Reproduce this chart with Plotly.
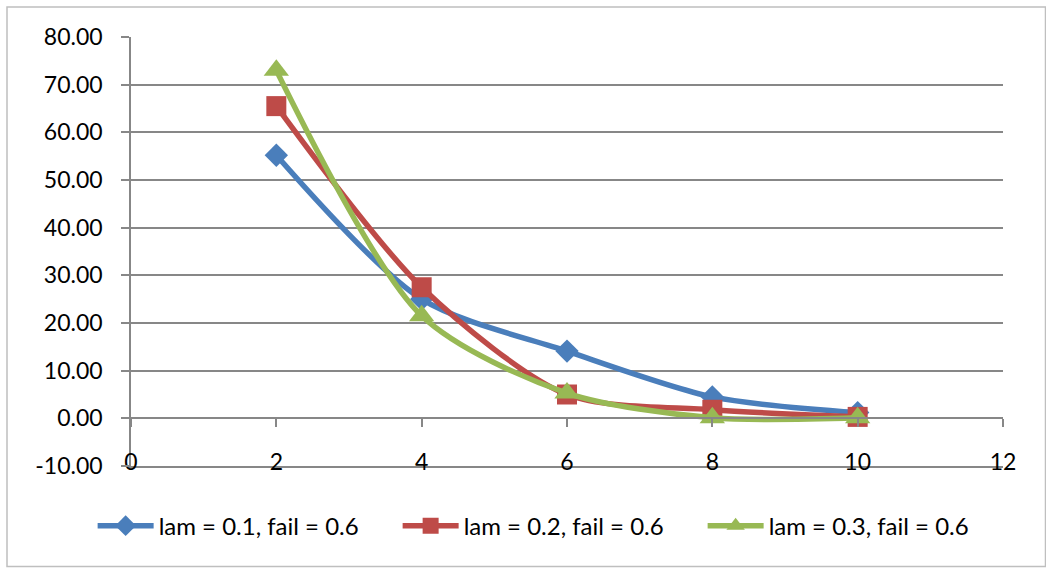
import plotly.graph_objects as go

x_vals = [2, 4, 6, 8, 10]
blue_vals = [55.2, 25.0, 14.1, 4.5, 1.2]
red_vals = [65.5, 27.5, 5.0, 1.8, 0.3]
green_vals = [73.0, 21.5, 5.3, 0.1, 0.1]
names = ["lam = 0.1, fail = 0.6", "lam = 0.2, fail = 0.6", "lam = 0.3, fail = 0.6"]
colors = ["#4A7EBB", "#BE4B48", "#98B954"]
symbols = ["diamond", "square", "triangle-up"]
msizes = [18, 20, 22]
x_ticks = [0, 2, 4, 6, 8, 10, 12]
y_ticks = [-10, 0, 10, 20, 30, 40, 50, 60, 70, 80]

FONT = "Lato"
GRID = "#878787"

fig = go.Figure()
for vals, name, c, s, ms in zip([blue_vals, red_vals, green_vals], names, colors, symbols, msizes):
    fig.add_trace(go.Scatter(
        x=x_vals, y=vals, name=name, mode="lines+markers",
        line=dict(color=c, width=5.5, shape="spline", smoothing=0.8),
        marker=dict(symbol=s, size=ms, color=c),
    ))

# helper axis at y=0 carrying the tick marks
fig.add_trace(go.Scatter(x=[x_ticks[0], x_ticks[-1]], y=[None, None], xaxis="x2",
                         showlegend=False, hoverinfo="skip", mode="lines"))

W, H = 1046, 568
l, r, t, b = 131, 43, 37, 102

fig.update_layout(
    width=W, height=H,
    margin=dict(l=l, r=r, t=t, b=b, autoexpand=False),
    paper_bgcolor="white", plot_bgcolor="white",
    font=dict(family=FONT, size=23, color="black"),
    showlegend=True,
    legend=dict(orientation="h", x=-0.044, y=-0.14, xanchor="left", yanchor="middle",
                itemwidth=56, entrywidth=234, entrywidthmode="pixels",
                font=dict(family=FONT, size=24), bgcolor="rgba(0,0,0,0)",
                traceorder="normal"),
    xaxis=dict(range=[0, 12], tickvals=x_ticks, ticktext=[str(v) for v in x_ticks],
               showgrid=False, zeroline=False, showline=True, linecolor=GRID, linewidth=1.5,
               ticks="", ticklabelstandoff=-25, tickfont=dict(family=FONT, size=23)),
    xaxis2=dict(range=[0, 12], tickvals=x_ticks, overlaying="x", anchor="free",
                position=10 / 90, side="bottom", showline=True, linecolor=GRID, linewidth=1.5,
                ticks="outside", ticklen=8, tickcolor=GRID, tickwidth=1.5,
                showticklabels=False, showgrid=False, zeroline=False),
    yaxis=dict(range=[-10, 80], tickvals=y_ticks, ticktext=[f"{v:.2f}" for v in y_ticks],
               showgrid=True, gridcolor=GRID, gridwidth=1.5, zeroline=False,
               showline=True, linecolor=GRID, linewidth=1.5,
               ticks="outside", ticklen=8, tickcolor=GRID, tickwidth=1.5,
               ticklabelstandoff=14, tickfont=dict(family=FONT, size=23)),
    shapes=[dict(type="rect", xref="paper", yref="paper",
                 x0=(7 - l) / (W - l - r), x1=(1045.5 - l) / (W - l - r),
                 y0=-(566.5 - (H - b)) / (H - t - b), y1=1 + (t - 7) / (H - t - b),
                 line=dict(color="#BFBFBF", width=1.5), layer="below")],
)

fig.write_html("out.html")
